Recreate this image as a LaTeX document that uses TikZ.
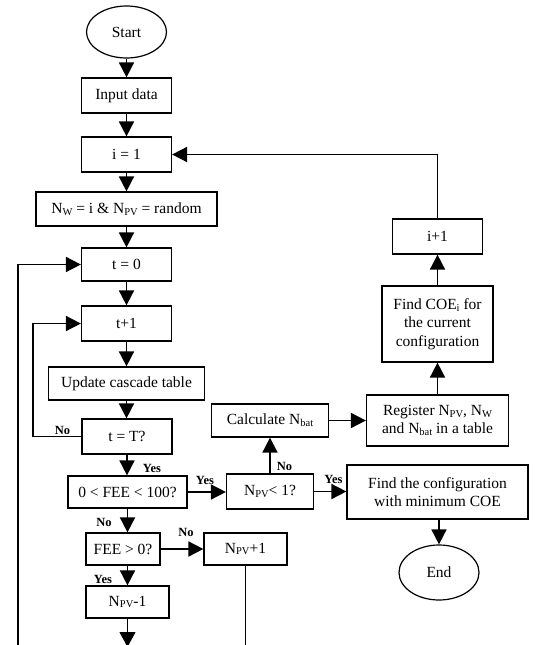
\documentclass[tikz,border=0pt]{standalone}
\usepackage{fontspec}
\setmainfont{Liberation Serif}
\usetikzlibrary{arrows.meta,shapes.geometric}
\newcommand\lowsub[1]{\raisebox{-0.12em}{\fontsize{10.5}{10}\selectfont #1}}
\begin{document}
\begin{tikzpicture}[x=1pt,y=-1pt,
 box/.style={draw,line width=1.2pt,inner sep=0pt,align=center,font=\fontsize{15.5}{18.5}\selectfont},
 oval/.style={box,ellipse},
 flow/.style={line width=1.7pt,-{Triangle[length=15pt,width=15pt]}},
 lab/.style={font=\fontsize{12.5}{14}\selectfont\bfseries,inner sep=0pt}]
\useasboundingbox (0,0) rectangle (535,645);
% main column
\node[oval,minimum width=80pt,minimum height=52pt] (start) at (126.5,32) {Start};
\node[box,minimum width=90pt,minimum height=35pt] (input) at (126.5,95.5) {Input data};
\node[box,minimum width=90pt,minimum height=35pt] (i1) at (126.5,154.5) {i = 1};
\node[box,minimum width=181pt,minimum height=34pt] (nw) at (126.5,209) {N\lowsub{W} = i \& N\lowsub{PV} = random};
\node[box,minimum width=90pt,minimum height=33pt] (t0) at (126.5,264.5) {t = 0};
\node[box,minimum width=90pt,minimum height=35pt] (t1) at (126.5,323.5) {t+1};
\node[box,minimum width=156pt,minimum height=33pt] (upd) at (126.5,383.5) {Update cascade table};
\node[box,minimum width=90pt,minimum height=35pt] (tT) at (127,436.5) {t = T?};
\node[box,minimum width=119pt,minimum height=32pt] (fee100) at (127.5,492) {0 < FEE < 100?};
\node[box,minimum width=74pt,minimum height=32pt] (fee0) at (123,549) {FEE > 0?};
\node[box,minimum width=83pt,minimum height=32pt] (npvm) at (127.5,602) {N\lowsub{PV}-1};
% middle
\node[box,minimum width=87pt,minimum height=35pt] (npv1) at (270,491.5) {N\lowsub{PV}< 1?};
\node[box,minimum width=117pt,minimum height=33pt] (calc) at (270,420.5) {Calculate N\lowsub{bat}};
\node[box,minimum width=83pt,minimum height=32pt] (npvp) at (245.5,549) {N\lowsub{PV}+1};
% right column
\node[box,minimum width=142pt,minimum height=51pt] (reg) at (437.5,420.5) {Register N\lowsub{PV}, N\lowsub{W}\\and N\lowsub{bat} in a table};
\node[box,minimum width=181pt,minimum height=54pt] (findcfg) at (437.5,492) {Find the configuration\\with minimum COE};
\node[oval,minimum width=80pt,minimum height=55pt] (endn) at (439,572.5) {End};
\node[box,minimum width=111pt,minimum height=76pt] (coe) at (437.5,324) {Find COE\lowsub{i} for\\the current\\configuration};
\node[box,minimum width=90pt,minimum height=35pt] (ip1) at (437.5,236.5) {i+1};
% helper coordinates
\coordinate (lx1) at (33,0);
\coordinate (b0) at (18,648);
\coordinate (bm) at (127.5,647);
% connectors
\draw[flow] (start) -- (input);
\draw[flow] (input) -- (i1);
\draw[flow] (i1) -- (nw);
\draw[flow] (nw) -- (t0);
\draw[flow] (t0) -- (t1);
\draw[flow] (t1) -- (upd);
\draw[flow] (upd.south) -- (upd.south |- tT.north);
\draw[flow] (tT.south) -- (tT.south |- fee100.north);
\draw[flow] (fee100.south) -- (fee100.south |- fee0.north);
\draw[flow] (fee0.south -| fee100.south) -- (fee100.south |- npvm.north);
\draw[line width=1pt,-{Triangle[length=15pt,width=16pt]}] (npvm.south) -- (bm);
\draw[flow] (tT.west) -- (tT.west -| lx1) |- (t1.west);
\draw[flow] (b0) |- (t0.west);
\draw[flow] (fee100.east) -- (fee100.east -| npv1.west);
\draw[flow] (npv1.east) -- (npv1.east -| findcfg.west);
\draw[flow] (npv1) -- (calc);
\draw[flow] (calc) -- (reg);
\draw[flow] (reg) -- (coe);
\draw[flow] (coe) -- (ip1);
\draw[flow] (ip1.north) |- (i1.east);
\draw[flow] (findcfg.south -| endn.north) -- (endn.north);
\draw[flow] (fee0) -- (npvp);
\draw[line width=1.7pt] (npvp.south) -- (npvp.south |- b0);
% labels
\node[lab] at (152,468) {Yes};
\node[lab] at (62.5,430) {No};
\node[lab] at (205,480) {Yes};
\node[lab] at (104,522) {No};
\node[lab] at (186,532) {No};
\node[lab] at (103,579) {Yes};
\node[lab] at (284.5,466) {No};
\node[lab] at (333.5,479) {Yes};
\end{tikzpicture}
\end{document}
